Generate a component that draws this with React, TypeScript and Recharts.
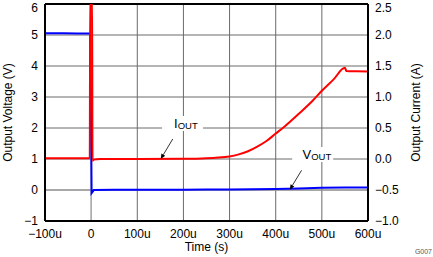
import React from 'react';
import { LineChart, Line, XAxis, YAxis, CartesianGrid, ReferenceLine, ReferenceDot } from 'recharts';

const TIME_TICKS = [-100, 0, 100, 200, 300, 400, 500, 600];
const VOLT_TICKS = [-1, 0, 1, 2, 3, 4, 5, 6];
const AMP_TICKS = [-1, -0.5, 0, 0.5, 1, 1.5, 2, 2.5];

const VOUT_TIME = [-100, -60, -30, -2, 0.5, 1, 3, 6, 50, 100, 150, 200, 250, 300, 350, 400, 450, 500, 550, 600];
const VOUT_VALUE = [5.06, 5.06, 5.05, 5.05, 0.9, -0.1, -0.06, 0.0, 0.01, 0.005, 0.01, 0.01, 0.015, 0.02, 0.025, 0.03, 0.05, 0.07, 0.08, 0.08];

const IOUT_TIME = [-100, -3, -2, 2, 3, 6, 20, 100, 200, 240, 270, 300, 320, 340, 360, 380, 400, 420, 450, 480, 500, 525, 550, 553, 575, 600];
const IOUT_VALUE = [0.012, 0.012, 2.7, 2.7, -0.03, -0.01, 0.0, 0.0, 0.005, 0.01, 0.02, 0.04, 0.075, 0.125, 0.2, 0.29, 0.41, 0.53, 0.73, 0.94, 1.1, 1.28, 1.47, 1.42, 1.415, 1.41];

const voutData = VOUT_TIME.map((t, i) => ({ t, v: VOUT_VALUE[i] }));
const ioutData = IOUT_TIME.map((t, i) => ({ t, a: IOUT_VALUE[i] }));

const FONT = '"Liberation Sans", Arial, sans-serif';
const MINUS = '\u2212';

const fmtTime = (v: number) => (v === 0 ? '0' : `${v < 0 ? MINUS : ''}${Math.abs(v)}u`);
const fmtVolt = (v: number) => `${v < 0 ? MINUS : ''}${Math.abs(v)}`;
const fmtAmp = (v: number) => `${v < 0 ? MINUS : ''}${Math.abs(v).toFixed(1)}`;

const tickStyle = { fill: '#000', fontSize: 12, fontFamily: FONT };

const SeriesLabel = (main: string, offX: number, arrow: [number, number, number, number]) => (props: any) => {
  const { cx, cy } = props;
  if (cx == null || cy == null) return null;
  const [x1, y1, x2, y2] = arrow;
  const ax = cx + x2;
  const ay = cy + y2;
  const dx = x2 - x1;
  const dy = y2 - y1;
  const len = Math.sqrt(dx * dx + dy * dy);
  const ux = dx / len;
  const uy = dy / len;
  const hl = 5;
  const hw = 2.2;
  const bx = ax - ux * hl;
  const by = ay - uy * hl;
  return (
    <g>
      <rect x={cx - 20} y={cy - 12} width={41} height={15} fill="#fff" />
      <text x={cx + offX} y={cy} fontFamily={FONT} fill="#000">
        <tspan fontSize={13}>{main}</tspan>
        <tspan fontSize={9.5} dy={1}>OUT</tspan>
      </text>
      <line x1={cx + x1} y1={cy + y1} x2={bx} y2={by} stroke="#000" strokeWidth={0.8} />
      <polygon
        points={`${ax},${ay} ${bx - uy * hw},${by + ux * hw} ${bx + uy * hw},${by - ux * hw}`}
        fill="#000"
      />
    </g>
  );
};

const IoutLabel = SeriesLabel('I', -8, [-9.3, 11, -21.3, 31]);
const VoutLabel = SeriesLabel('V', -9.6, [-10.6, 11.3, -22.3, 30.6]);

export default function App() {
  return (
    <div style={{ position: 'absolute', left: 0, top: 0, width: 433, height: 257, background: '#fff' }}>
      <LineChart width={433} height={257} margin={{ top: 4, right: 0, bottom: 0, left: 0 }}>
        <CartesianGrid yAxisId="left" stroke="#6a6a6a" strokeWidth={1} />
        <XAxis
          dataKey="t"
          type="number"
          domain={[-100, 600]}
          ticks={TIME_TICKS}
          tickFormatter={fmtTime}
          height={36}
          tickLine={false}
          tickSize={5}
          tickMargin={3}
          axisLine={{ stroke: '#000', strokeWidth: 2 }}
          tick={tickStyle}
          allowDataOverflow
          label={{
            content: (p: any) => {
              const vb = p.viewBox || {};
              return (
                <g>
                  <text x={vb.x + vb.width / 2} y={vb.y + 30} textAnchor="middle" fontSize={12} fontFamily={FONT} fill="#000">
                    Time (s)
                  </text>
                  <text x={432} y={254} textAnchor="end" fontSize={7} fontFamily={FONT} fill="#555">
                    G007
                  </text>
                </g>
              );
            },
          }}
        />
        <YAxis
          yAxisId="left"
          orientation="left"
          type="number"
          domain={[-1, 6]}
          ticks={VOLT_TICKS}
          tickFormatter={fmtVolt}
          width={45}
          tickLine={false}
          tickSize={5}
          tickMargin={2}
          axisLine={{ stroke: '#000', strokeWidth: 2 }}
          tick={tickStyle}
          allowDataOverflow
          label={{
            content: (p: any) => {
              const vb = p.viewBox || {};
              const x = 8;
              const y = vb.y + vb.height / 2;
              return (
                <text x={x} y={y} transform={`rotate(-90, ${x}, ${y})`} textAnchor="middle" dominantBaseline="central" fontSize={12} fontFamily={FONT} fill="#000">
                  Output Voltage (V)
                </text>
              );
            },
          }}
        />
        <YAxis
          yAxisId="right"
          orientation="right"
          type="number"
          domain={[-1, 2.5]}
          ticks={AMP_TICKS}
          tickFormatter={fmtAmp}
          width={65}
          tickLine={false}
          tickSize={5}
          tickMargin={2}
          axisLine={{ stroke: '#000', strokeWidth: 2 }}
          tick={tickStyle}
          allowDataOverflow
          label={{
            content: (p: any) => {
              const vb = p.viewBox || {};
              const x = 416;
              const y = vb.y + vb.height / 2;
              return (
                <text x={x} y={y} transform={`rotate(-90, ${x}, ${y})`} textAnchor="middle" dominantBaseline="central" fontSize={12} fontFamily={FONT} fill="#000">
                  Output Current (A)
                </text>
              );
            },
          }}
        />
        <ReferenceLine x={0} yAxisId="left" stroke="#b4b4b4" strokeWidth={1} />
        <ReferenceLine y={0} yAxisId="left" stroke="#9a9a9a" strokeWidth={1} />
        <ReferenceLine y={6} yAxisId="left" stroke="#000" strokeWidth={2} />
        <ReferenceDot x={197} y={2} yAxisId="left" shape={IoutLabel} />
        <ReferenceDot x={479} y={1} yAxisId="left" shape={VoutLabel} />
        <Line
          data={voutData}
          yAxisId="left"
          dataKey="v"
          type="linear"
          stroke="#0000ff"
          strokeWidth={2}
          dot={false}
          isAnimationActive={false}
        />
        <Line
          data={ioutData}
          yAxisId="right"
          dataKey="a"
          type="monotone"
          stroke="#ff0000"
          strokeWidth={2}
          dot={false}
          isAnimationActive={false}
        />
      </LineChart>
    </div>
  );
}
